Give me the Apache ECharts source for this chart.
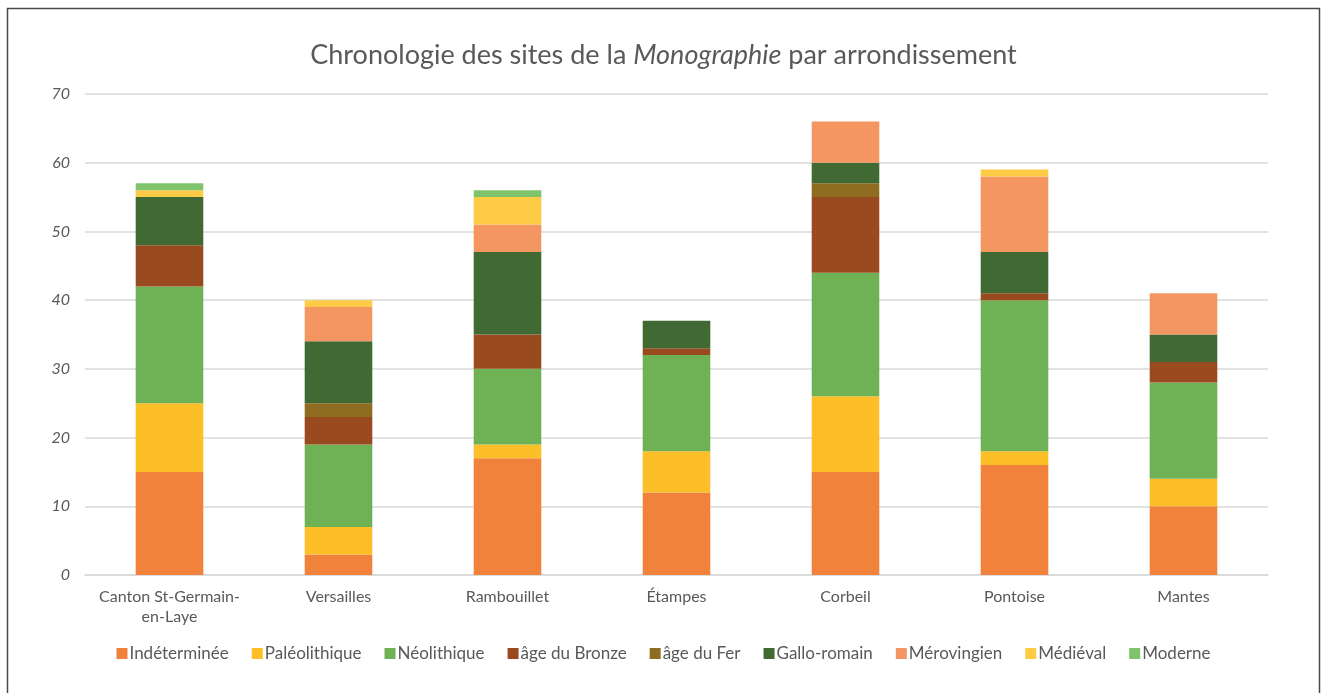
<!DOCTYPE html>
<html>
<head>
<meta charset="utf-8">
<script src="https://cdn.jsdelivr.net/npm/echarts@6/dist/echarts.min.js"></script>
<style>
  html, body { margin: 0; padding: 0; background: #ffffff; }
  #chart { width: 1327px; height: 693px; }
</style>
</head>
<body>
<div id="chart"></div>
<script>
// Arrondissements (x axis)
const categories = ['Canton St-Germain-\nen-Laye', 'Versailles', 'Rambouillet', 'Étampes', 'Corbeil', 'Pontoise', 'Mantes'];

// Number of sites per period, one array per period
const indeterminee = [15, 3, 17, 12, 15, 16, 10];
const paleolithique = [10, 4, 2, 6, 11, 2, 4];
const neolithique = [17, 12, 11, 14, 18, 22, 14];
const ageBronze = [6, 4, 5, 1, 11, 1, 3];
const ageFer = [0, 2, 0, 0, 2, 0, 0];
const galloRomain = [7, 9, 12, 4, 3, 6, 4];
const merovingien = [0, 5, 4, 0, 6, 11, 6];
const medieval = [1, 1, 4, 0, 0, 1, 0];
const moderne = [1, 0, 1, 0, 0, 0, 0];

const periodNames = ['Indéterminée', 'Paléolithique', 'Néolithique', 'âge du Bronze', 'âge du Fer', 'Gallo-romain', 'Mérovingien', 'Médiéval', 'Moderne'];
const periodValues = [indeterminee, paleolithique, neolithique, ageBronze, ageFer, galloRomain, merovingien, medieval, moderne];
const periodColors = ['#F0823C', '#FDBF28', '#6FB155', '#994B1F', '#8E6C22', '#416933', '#F39661', '#FECB46', '#7FC46D'];

const FONT = 'Lato, "Open Sans", sans-serif';

const chart = echarts.init(document.getElementById('chart'), null, { renderer: 'canvas' });

const series = periodNames.map((name, i) => ({
  name: name,
  type: 'bar',
  stack: 'total',
  barWidth: '40%',
  itemStyle: { color: periodColors[i] },
  emphasis: { disabled: true },
  data: periodValues[i].map(v => (v === 0 ? null : v))
}));

chart.setOption({
  animation: false,
  backgroundColor: '#ffffff',
  color: periodColors,
  graphic: [{
    type: 'rect',
    shape: { x: 7.5, y: 8.5, width: 1312, height: 720 },
    style: { fill: 'none', stroke: '#4a4a4a', lineWidth: 1.5 },
    silent: true,
    z: 100
  }],
  title: {
    text: '{n|Chronologie des sites de la }{i|Monographie}{n| par arrondissement}',
    left: 'center',
    top: 37,
    textStyle: {
      fontWeight: 'normal',
      rich: {
        n: { fontFamily: FONT, fontSize: 27, fontWeight: 'normal', color: '#595959' },
        i: { fontFamily: FONT, fontSize: 27, fontWeight: 'normal', color: '#595959', fontStyle: 'italic' }
      }
    }
  },
  legend: {
    bottom: 26,
    left: 'center',
    itemWidth: 11,
    itemHeight: 11,
    itemGap: 23,
    icon: 'rect',
    textStyle: { fontFamily: FONT, fontSize: 17, color: '#595959', padding: [0, 0, 0, -3] },
    data: periodNames
  },
  grid: { left: 85, right: 59, top: 94, bottom: 118, containLabel: false },
  xAxis: {
    type: 'category',
    data: categories,
    axisTick: { show: false },
    axisLine: { lineStyle: { color: '#d9d9d9', width: 1.5 } },
    axisLabel: {
      fontFamily: FONT, fontSize: 16, color: '#595959', margin: 12, lineHeight: 20, interval: 0
    }
  },
  yAxis: {
    type: 'value',
    min: 0,
    max: 70,
    interval: 10,
    axisLine: { show: false },
    axisTick: { show: false },
    splitLine: { lineStyle: { color: '#d9d9d9', width: 1.5 } },
    axisLabel: {
      fontFamily: FONT, fontSize: 16, color: '#595959', fontStyle: 'italic', margin: 15
    }
  },
  series: series
});
</script>
</body>
</html>
